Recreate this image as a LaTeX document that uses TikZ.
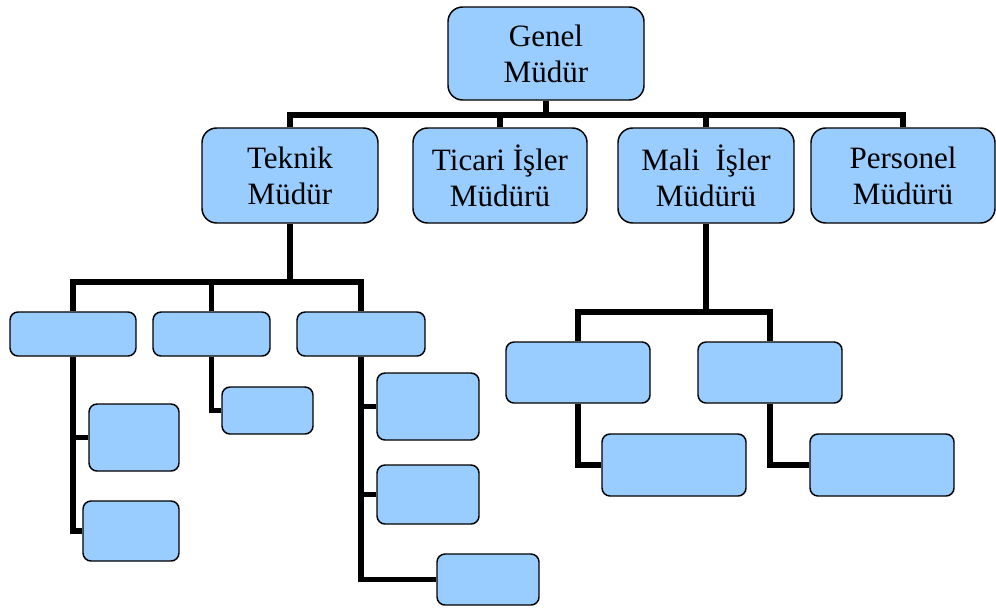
\documentclass[tikz,border=0pt]{standalone}
\usepackage{fontspec}
\setmainfont{Liberation Serif}
\usetikzlibrary{backgrounds}
\definecolor{boxblue}{RGB}{153,204,255}
\begin{document}
\begin{tikzpicture}[x=0.75pt,y=-0.75pt,
  bigbox/.style 2 args={draw=black, line width=1.1pt, fill=boxblue, rounded corners=11pt,
    minimum width=#1*0.75pt, minimum height=#2*0.75pt, inner sep=0pt, align=center,
    font=\fontsize{23.3}{27}\selectfont},
  smallbox/.style 2 args={draw=black, line width=1.1pt, fill=boxblue, rounded corners=6pt,
    minimum width=#1*0.75pt, minimum height=#2*0.75pt, inner sep=0pt},
  conn/.style={draw=black, line width=3.9pt, line join=miter}]
\useasboundingbox (0,0) rectangle (996,607);
% top level
\node[bigbox={196}{93}] (G) at (546,53.5) {Genel\\Müdür};
\node[bigbox={176}{95}] (T) at (290,175.5) {Teknik\\Müdür};
\node[bigbox={174}{95}] (Ti) at (500,175.5) {Ticari İşler\\Müdürü};
\node[bigbox={176}{95}] (M) at (706,175.5) {Mali\ \ İşler\\Müdürü};
\node[bigbox={184}{95}] (P) at (903,175.5) {Personel\\Müdürü};
% under Teknik
\node[smallbox={126}{44}] (A) at (73,334) {};
\node[smallbox={117}{44}] (B) at (211.5,334) {};
\node[smallbox={128}{44}] (C) at (361,334) {};
\node[smallbox={90}{67}] (A1) at (134,437.5) {};
\node[smallbox={96}{60}] (A2) at (131,531) {};
\node[smallbox={91}{47}] (B1) at (267.5,410.5) {};
\node[smallbox={102}{67}] (C1) at (428,406.5) {};
\node[smallbox={102}{59}] (C2) at (428,494.5) {};
\node[smallbox={102}{51}] (C3) at (488,579.5) {};
% under Mali
\node[smallbox={144}{61}] (M1) at (578,372.5) {};
\node[smallbox={144}{61}] (M2) at (770,372.5) {};
\node[smallbox={144}{62}] (M1a) at (674,465) {};
\node[smallbox={144}{62}] (M2a) at (882,465) {};
% bar levels
\coordinate (b1) at (0,115);
\coordinate (b2) at (0,282);
\coordinate (b3) at (0,312);
\begin{scope}[on background layer]
\draw[conn] (G.south) -- (G.south |- b1);
\draw[conn] (T.north) |- (b1 -| P.north) -- (P.north);
\draw[conn] (Ti.north) -- (Ti.north |- b1);
\draw[conn] (M.north) -- (M.north |- b1);
\draw[conn] (T.south) -- (T.south |- b2);
\draw[conn] (A.north) |- (b2 -| C.north) -- (C.north);
\draw[conn] (B.north) -- (B.north |- b2);
\draw[conn] (A.south) |- (A2.west);
\draw[conn] (A1.west) -- (A1.west -| A.south);
\draw[conn] (B.south) |- (B1.west);
\draw[conn] (C.south) |- (C3.west);
\draw[conn] (C1.west) -- (C1.west -| C.south);
\draw[conn] (C2.west) -- (C2.west -| C.south);
\draw[conn] (M.south) -- (M.south |- b3);
\draw[conn] (M1.north) |- (b3 -| M2.north) -- (M2.north);
\draw[conn] (M1.south) |- (M1a.west);
\draw[conn] (M2.south) |- (M2a.west);
\end{scope}
\end{tikzpicture}
\end{document}
